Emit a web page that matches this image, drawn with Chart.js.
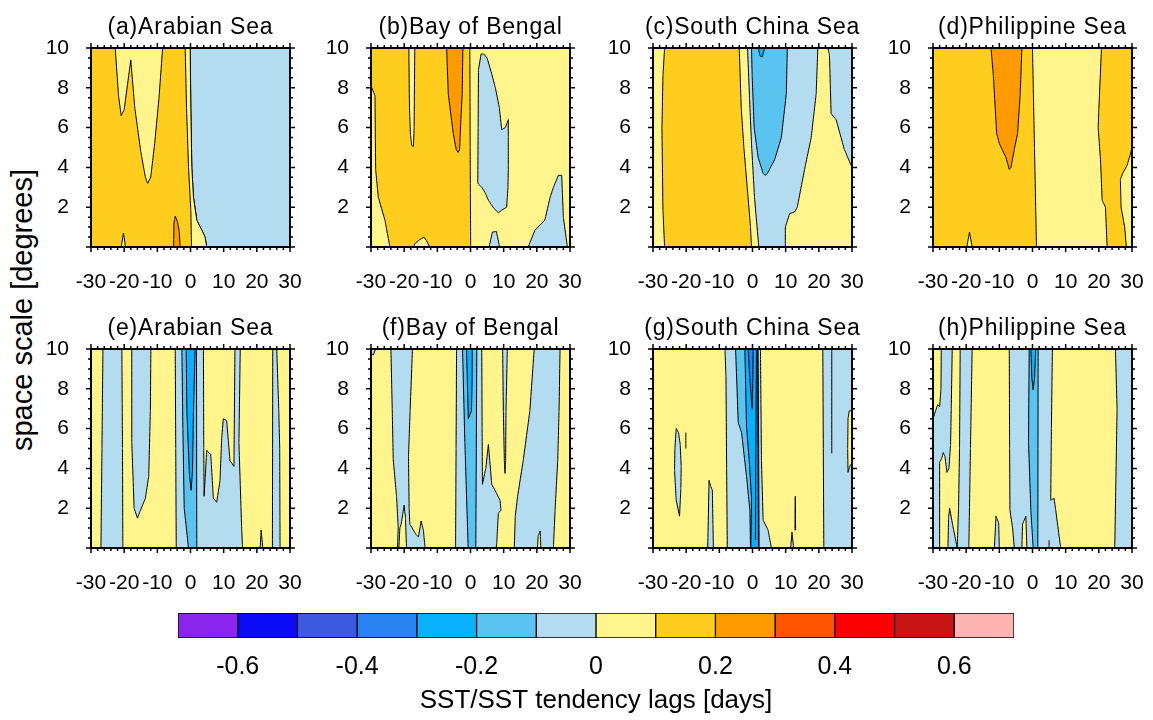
<!DOCTYPE html>
<html lang="en">
<head>
  <meta charset="UTF-8">
  <title>SST/SST tendency lags</title>
  <style>
    body {
      margin: 0;
      background: #fff;
      width: 1153px;
      height: 720px;
      position: relative;
      overflow: hidden;
      font-family: "Liberation Sans", Arial, sans-serif;
    }
    canvas { position: absolute; }
    .ttl {
      position: absolute;
      width: 320px;
      text-align: center;
      font-size: 23px;
      line-height: 28px;
      letter-spacing: 0.8px;
      white-space: nowrap;
      color: #000;
    }
    #ylab {
      position: absolute;
      width: 420px;
      height: 34px;
      line-height: 34px;
      font-size: 29px;
      text-align: center;
      white-space: nowrap;
      left: -188px;
      top: 293px;
      transform: rotate(-90deg);
    }
  </style>
  <script src="https://cdn.jsdelivr.net/npm/chart.js"></script>
</head>
<body>
  <div id="ylab">space scale [degrees]</div>
  <canvas id="cbar" width="936" height="112" style="left:128px;top:611px"></canvas>

  <script>
    const FONT = '"Liberation Sans", Arial, sans-serif';

    // colour levels (-0.7 ... 0.7 step 0.1)
    const levelColors = ['#8A25ED', '#0B0BF5', '#3C5AE0', '#2882F0', '#0AAFFF', '#5AC3F0', '#B4DCF0',
                         '#FFF58C', '#FFCD1E', '#FF9B00', '#FF5500', '#FA0000', '#C81414', '#FFB4B4'];
    const levelBounds = [-0.7, -0.6, -0.5, -0.4, -0.3, -0.2, -0.1, 0, 0.1, 0.2, 0.3, 0.4, 0.5, 0.6, 0.7];
    const cbTicks = [-0.6, -0.4, -0.2, 0, 0.2, 0.4, 0.6];

    const lagTicks = [-30, -20, -10, 0, 10, 20, 30];
    const scaleTicks = [2, 4, 6, 8, 10];
    const panelTitles = ['(a)Arabian Sea', '(b)Bay of Bengal', '(c)South China Sea', '(d)Philippine Sea',
                         '(e)Arabian Sea', '(f)Bay of Bengal', '(g)South China Sea', '(h)Philippine Sea'];

    // contour regions: [lag, scale] vertices, lvl = colour index, drawn in order
    const FULL = [[-30, 0], [30, 0], [30, 10], [-30, 10]];

    const regA = [
      {lvl: 8, pts: FULL, bg: true},
      {lvl: 6, pts: [[-0.1,10],[0.1,7],[0.4,4],[0.9,2.5],[1.9,1.35],[3.4,0.85],[4.4,0.5],[4.9,0],[30,0],[30,10]]},
      {lvl: 7, pts: [[-1.6,10],[-1.2,7],[-0.6,4],[0.1,1.85],[0.3,0],[4.9,0],[4.4,0.5],[3.4,0.85],[1.9,1.35],[0.9,2.5],[0.4,4],[0.1,7],[-0.1,10]]},
      {lvl: 7, pts: [[-22.7,10],[-21.7,7.6],[-20.9,6.6],[-20,6.9],[-18,9.4],[-16.8,7],[-15,4.8],[-13.6,3.5],[-12.9,3.2],[-12,3.5],[-10.8,5.2],[-9.5,7.5],[-8.4,10]]},
      {lvl: 9, pts: [[-5.1,0],[-5.0,1.2],[-4.6,1.55],[-4.0,1.3],[-3.4,0.8],[-3.1,0]]},
      {lvl: 7, pts: [[-20.9,0],[-20.2,0.7],[-19.6,0]]}
    ];

    const regB = [
      {lvl: 7, pts: FULL, bg: true},
      {lvl: 8, pts: [[-30,10],[-30,8.1],[-28.8,7.6],[-28.6,3.9],[-27.8,2.5],[-25.8,1.35],[-24.3,0],[0.05,0],[-0.1,5],[-0.2,10]]},
      {lvl: 7, pts: [[-18.6,10],[-18.4,7],[-18.1,5.6],[-17.7,5.1],[-17.2,5.05],[-17,6],[-16.8,10]]},
      {lvl: 9, pts: [[-7.2,10],[-6.7,7.7],[-5.2,5.7],[-4.3,4.9],[-3.7,4.75],[-3.3,4.9],[-2.9,6.4],[-2.5,7.7],[-2.3,10]]},
      {lvl: 7, pts: [[-17,0],[-16.9,0.15],[-15.5,0.35],[-14,0.5],[-13.2,0.3],[-12.3,0]]},
      {lvl: 6, pts: [[3.2,9.7],[2.4,8.9],[2.3,6],[2.2,3.2],[3.4,3.0],[4.5,2.7],[5.4,2.35],[7,1.95],[8.4,1.72],[9.4,1.85],[10.9,2.0],[11.3,3],[11.4,3.9],[11.4,5.5],[11.4,6.4],[10.5,6.0],[9.4,5.9],[8.7,7],[7.5,8],[6.4,8.7],[5,9.5],[4,9.7]]},
      {lvl: 6, pts: [[5.6,0],[6.6,0.75],[7.8,0.78],[8.8,0]]},
      {lvl: 6, pts: [[17.4,0],[19.4,0.84],[22.4,1.35],[24,2.5],[25,3],[26.5,3.6],[27.5,3.6],[28,1.5],[29.2,0]]}
    ];

    const regC = [
      {lvl: 7, pts: FULL, bg: true},
      {lvl: 8, pts: [[-26.5,10],[-27,8.6],[-27.3,6],[-27,1.85],[-26.5,0],[-0.3,0],[-0.6,1],[-1.6,3],[-2.6,5],[-3.4,7],[-4,10]]},
      {lvl: 6, pts: [[-1.5,10],[-0.9,7.5],[-0.3,5.2],[0.6,2.5],[1.9,0],[9.9,0],[9.9,1],[11.2,1.68],[12.7,1.76],[13.5,2.0],[15.7,3.9],[17.7,5.5],[19.2,7.7],[19.7,10]]},
      {lvl: 6, pts: [[22.7,10],[23.2,9.66],[23.7,6.7],[25.2,6.4],[27.7,4.9],[30,4.0],[30,10]]},
      {lvl: 5, pts: [[-0.3,10],[-0.1,8.6],[0.5,6],[1.7,4.5],[3.2,3.7],[3.8,3.6],[4.5,3.7],[6.7,4.4],[8.7,5.5],[10.2,7.7],[10.5,10]]},
      {lvl: 4, pts: [[1.7,10],[2.3,9.6],[2.9,9.55],[3.4,9.8],[3.6,10]]}
    ];

    const regD = [
      {lvl: 8, pts: FULL, bg: true},
      {lvl: 9, pts: [[-12.5,10],[-11.8,8.6],[-10.8,5.7],[-10,5.2],[-8,4.5],[-7,3.9],[-6.5,4.0],[-5.5,4.9],[-4.5,5.7],[-3.7,7.7],[-3.2,10]]},
      {lvl: 7, pts: [[0,10],[0.6,5],[1.2,0],[22.5,0],[22,2],[21,2.35],[20.5,4.4],[19.8,6],[20,6.9],[20.8,10]]},
      {lvl: 7, pts: [[28.3,0],[27.8,1],[26.7,2],[26.5,3.4],[27.2,3.7],[28.5,4.1],[29.4,4.6],[30,5],[30,0]]},
      {lvl: 7, pts: [[-19.8,0],[-19,0.75],[-18.2,0]]}
    ];

    const regE = [
      {lvl: 7, pts: FULL, bg: true},
      {lvl: 6, pts: [[-26.4,10],[-26.7,5],[-27,0],[-20.4,0],[-20.5,5],[-20.7,10]]},
      {lvl: 6, pts: [[-17.7,10],[-17.7,5.3],[-17,2.0],[-16,1.5],[-15.2,1.85],[-13.6,2.5],[-12.6,3.6],[-12.1,6.9],[-11.95,10]]},
      {lvl: 6, pts: [[-4.6,10],[-4.45,5],[-4.3,0],[15.7,0],[15.4,1.1],[14.6,5.3],[15,10]]},
      {lvl: 7, pts: [[3.9,10],[4.0,5],[4.1,2.6],[4.9,4.9],[6.1,4.7],[6.9,2.5],[7.9,2.3],[8.9,3.4],[9.4,5.5],[9.9,6.5],[10.9,6.4],[11.9,4.4],[13.1,4.1],[13.4,10]]},
      {lvl: 5, pts: [[-2.6,10],[-2.3,6],[-1.9,2.0],[-0.6,0],[1.9,0],[1.8,10]]},
      {lvl: 4, pts: [[-1.3,10],[-1.1,6.9],[-0.3,3.6],[0.2,2.9],[0.6,3.9],[0.9,6.9],[1.4,10]]},
      {lvl: 6, pts: [[24.8,10],[24.7,0],[27,0],[26.9,5],[26.6,7],[26,10]]},
      {lvl: 6, pts: [[21,0],[21.3,0.9],[21.8,0]]}
    ];

    const regF = [
      {lvl: 7, pts: FULL, bg: true},
      {lvl: 6, pts: [[-30,10],[-30,9.75],[-29.3,9.7],[-28.6,10]]},
      {lvl: 6, pts: [[-24,10],[-23.6,7],[-23.3,4.45],[-22.3,2.6],[-21.8,1.05],[-22,0],[-13.7,0],[-14.2,0.9],[-14.9,1.35],[-15.7,0.55],[-16.5,0.7],[-18.3,1.2],[-18.5,2],[-18.7,4.6],[-18.2,6.9],[-17.5,10]]},
      {lvl: 7, pts: [[-21.6,0],[-21.3,1.0],[-20.9,1.2],[-20,2.15],[-19.6,1.5],[-19.3,0]]},
      {lvl: 6, pts: [[-4.2,10],[-4.35,5],[-4.5,0],[7.7,0],[7.9,0.2],[8.4,1.75],[9.2,1.9],[8.9,2.4],[7.4,2.9],[6.4,3.2],[5.4,5.2],[4.6,4.0],[3.6,3.2],[3.5,6],[3.4,10]]},
      {lvl: 6, pts: [[9.7,10],[9.9,6.9],[10.2,4.4],[10.4,3.75],[10.6,4.4],[10.7,6.9],[11.1,10]]},
      {lvl: 6, pts: [[19.2,10],[17.9,6.9],[15.9,4.4],[14.2,2.6],[13.5,1.6],[13.2,0],[25,0],[25.5,1.9],[26.3,4.4],[26.7,6.9],[27,10]]},
      {lvl: 7, pts: [[20.2,0],[20.4,0.6],[21.0,0.85],[21.2,0]]},
      {lvl: 5, pts: [[-2.4,10],[-1.7,5.3],[-0.7,0],[1.6,0],[1.9,10]]},
      {lvl: 4, pts: [[-1.2,10],[-0.9,8],[-0.65,6.5],[0.3,6.9],[0.5,8.5],[0.55,10]]}
    ];

    const regG = [
      {lvl: 7, pts: FULL, bg: true},
      {lvl: 6, pts: [[-23,6.0],[-23.4,5],[-23.5,3.9],[-23,2.4],[-22,1.6],[-21.6,3],[-21.5,4.1],[-21.8,5.2],[-22.3,5.8]]},
      {lvl: null, pts: [[-20.1,5.0],[-20.1,5.8]]},
      {lvl: 6, pts: [[-13.5,0],[-13.1,3.4],[-12.6,3.1],[-12.1,2.9],[-11.8,0]]},
      {lvl: 6, pts: [[-8.3,10],[-8,8.6],[-7.8,4],[-7.6,0],[5.7,0],[4.7,0.9],[3.2,1.4],[2.7,4.4],[2.4,10]]},
      {lvl: 5, pts: [[-5.1,10],[-4.3,6.3],[-3.3,5.8],[-1.8,3.6],[-0.8,1.9],[-0.6,0],[2.0,0],[1.7,10]]},
      {lvl: 4, pts: [[-2.3,10],[-1.8,6.1],[-0.9,4.2],[-0.3,2.5],[-0.5,0],[1.8,0],[1.5,10]]},
      {lvl: null, pts: [[0.9,0.4],[1.0,5],[1.2,10]]},
      {lvl: 3, pts: [[-1.3,10],[-0.8,8.5],[-0.1,7.0],[0.1,8.5],[0.2,10]]},
      {lvl: 6, pts: [[21.2,10],[21.5,0],[30,0],[30,10]]},
      {lvl: 7, pts: [[30,6.9],[29.2,6.9],[28.8,6.5],[28.7,5],[28.8,3.8],[29.3,4.1],[30,4.3]]},
      {lvl: null, pts: [[23.9,10],[23.9,4.75]]},
      {lvl: 6, pts: [[11.5,0],[11.9,0.8],[12.4,0]]},
      {lvl: 6, pts: [[12.8,0.9],[12.9,2.6],[13.0,0.9]]}
    ];

    const regH = [
      {lvl: 7, pts: FULL, bg: true},
      {lvl: 6, pts: [[-30,0],[-19.2,0],[-18.7,5],[-18.2,10],[-30,10]]},
      {lvl: 7, pts: [[-30,10],[-27.5,10],[-27.6,8],[-28,7.1],[-28.6,7.2],[-29.2,6.9],[-30,6.5]]},
      {lvl: 7, pts: [[-24.2,10],[-24.5,7],[-24.7,5.2],[-25.2,4.0],[-25.8,3.8],[-26.4,4.6],[-26.9,4.8],[-27.4,4.5],[-28,4.3],[-28,0],[-25.5,0],[-25.3,1.5],[-25,2.0],[-24,1.1],[-22.7,0],[-22.3,2],[-22,5],[-21.8,10]]},
      {lvl: 6, pts: [[-11.5,0],[-11,1.6],[-10.2,1.26],[-10,0]]},
      {lvl: 6, pts: [[-7,10],[-6.9,5],[-6.8,1.9],[-6,1],[-5.5,0],[8.5,0],[7,1.9],[6.5,2.5],[5.5,2.4],[5.7,6],[6,10]]},
      {lvl: 7, pts: [[-3.2,0],[-3,1.2],[-2,1.6],[-1.7,0]]},
      {lvl: 5, pts: [[-1,10],[-1.2,5.3],[-0.5,1.9],[0.2,0],[1.6,0],[1.7,10]]},
      {lvl: 4, pts: [[-0.5,10],[-0.2,8.5],[0.2,7.95],[0.6,8.5],[1,10]]},
      {lvl: null, pts: [[5,0],[5,0.4]]},
      {lvl: 6, pts: [[25,10],[25.5,7],[24.8,0],[30,0],[30,10]]}
    ];

    const panelRegions = [regA, regB, regC, regD, regE, regF, regG, regH];

    // frame + outward ticks on all four sides (NCL style)
    const framePlugin = {
      id: 'frame',
      afterDraw(chart) {
        const {ctx, chartArea: a, scales: {x, y}} = chart;
        ctx.save();
        ctx.strokeStyle = '#000';
        ctx.lineWidth = 1.5;
        ctx.beginPath();
        for (let v = x.min; v <= x.max; v += 2) {
          const px = x.getPixelForValue(v);
          const len = lagTicks.includes(v) ? 5 : 3;
          ctx.moveTo(px, a.bottom); ctx.lineTo(px, a.bottom + len);
          ctx.moveTo(px, a.top); ctx.lineTo(px, a.top - len);
        }
        for (let v = y.min; v <= y.max; v += 0.5) {
          const py = y.getPixelForValue(v);
          const len = v % 2 === 0 ? 5 : 3;
          ctx.moveTo(a.left, py); ctx.lineTo(a.left - len, py);
          ctx.moveTo(a.right, py); ctx.lineTo(a.right + len, py);
        }
        ctx.stroke();
        ctx.lineWidth = 2;
        ctx.strokeRect(a.left, a.top, a.right - a.left, a.bottom - a.top);
        ctx.restore();
      }
    };

    const plotLefts = [91, 371, 653, 933];
    const plotTops = [48, 349];
    const PLOT = 199;

    function makePanel(i) {
      const left = plotLefts[i % 4], top = plotTops[Math.floor(i / 4)];
      const cv = document.createElement('canvas');
      cv.width = 60 + PLOT + 16;
      cv.height = 14 + PLOT + 45;
      cv.style.left = (left - 60) + 'px';
      cv.style.top = (top - 14) + 'px';
      document.body.appendChild(cv);

      const t = document.createElement('div');
      t.className = 'ttl';
      t.textContent = panelTitles[i];
      t.style.left = (left + PLOT / 2 - 160) + 'px';
      t.style.top = (top - 36) + 'px';
      document.body.appendChild(t);

      const datasets = panelRegions[i].slice().reverse().map(r => ({
        data: (r.lvl === null ? r.pts : r.pts.concat([r.pts[0]])).map(p => ({x: p[0], y: p[1]})),
        fill: r.lvl === null ? false : 'shape',
        backgroundColor: r.lvl === null ? 'rgba(0,0,0,0)' : levelColors[r.lvl],
        borderColor: r.bg ? 'rgba(0,0,0,0)' : '#000',
        borderWidth: 1,
        pointRadius: 0,
        tension: 0.000001   // keeps the plain path (no column merging) for polygons
      }));

      new Chart(cv, {
        type: 'line',
        data: {datasets},
        plugins: [framePlugin],
        options: {
          responsive: false,
          animation: false,
          events: [],
          layout: {padding: {top: 14, right: 16, left: 0, bottom: 0}},
          plugins: {legend: {display: false}, tooltip: {enabled: false}},
          scales: {
            x: {
              type: 'linear', min: -30, max: 30,
              afterBuildTicks: s => { s.ticks = lagTicks.map(v => ({value: v})); },
              afterFit: s => { s.height = 45; },
              grid: {display: false, drawTicks: true, tickLength: 23},
              border: {display: false},
              ticks: {autoSkip: false, maxRotation: 0, minRotation: 0, padding: 0, color: '#000',
                      font: {size: 21, family: FONT}, callback: v => String(v)}
            },
            y: {
              type: 'linear', min: 0, max: 10,
              afterBuildTicks: s => { s.ticks = scaleTicks.map(v => ({value: v})); },
              afterFit: s => { s.width = 60; },
              grid: {display: false, drawTicks: true, tickLength: 22},
              border: {display: false},
              ticks: {autoSkip: false, padding: 0, color: '#000',
                      font: {size: 21, family: FONT}, callback: v => String(v)}
            }
          }
        }
      });
    }

    for (let i = 0; i < 8; i++) makePanel(i);

    // label bar
    new Chart(document.getElementById('cbar'), {
      type: 'bar',
      data: {
        labels: [''],
        datasets: levelColors.map((c, k) => ({
          data: [[levelBounds[k], levelBounds[k + 1]]],
          backgroundColor: c,
          borderColor: '#000',
          borderWidth: 1,
          borderSkipped: false,
          barPercentage: 1,
          categoryPercentage: 1,
          grouped: false
        }))
      },
      options: {
        indexAxis: 'y',
        responsive: false,
        animation: false,
        events: [],
        layout: {padding: {top: 2, left: 50, right: 50, bottom: 0}},
        plugins: {legend: {display: false}, tooltip: {enabled: false}},
        scales: {
          x: {
            type: 'linear', min: -0.7, max: 0.7,
            afterBuildTicks: s => { s.ticks = cbTicks.map(v => ({value: v})); },
            afterFit: s => { s.height = 85; },
            grid: {display: false, drawTicks: false},
            border: {display: false},
            ticks: {autoSkip: false, maxRotation: 0, padding: 14, color: '#000',
                    font: {size: 25, family: FONT}, callback: v => String(v)},
            title: {display: true, text: 'SST/SST tendency lags [days]', color: '#000',
                    font: {size: 26, family: FONT}, padding: {top: 8, bottom: 7}}
          },
          y: {display: false}
        }
      }
    });
  </script>
</body>
</html>
